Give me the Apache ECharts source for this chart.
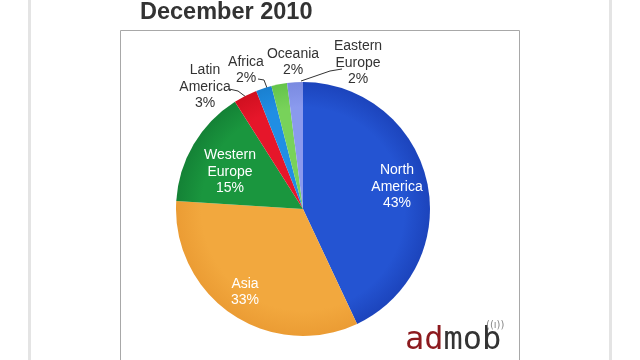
<!DOCTYPE html>
<html>
<head>
<meta charset="utf-8">
<script src="https://cdn.jsdelivr.net/npm/echarts@6/dist/echarts.min.js"></script>
<style>
html,body{margin:0;padding:0;background:#fff;}
#chart{width:640px;height:360px;}
</style>
</head>
<body>
<div id="chart"></div>
<script>
var titleText = 'December 2010';
var regions = ['North\nAmerica', 'Asia', 'Western\nEurope', 'Latin\nAmerica', 'Africa', 'Oceania', 'Eastern\nEurope'];
var shares = [43, 33, 15, 3, 2, 2, 2];

// styling (not data)
var sliceColors = [
  ['#2454d2', '#1c44bc'],
  ['#f2a83e', '#eb9c34'],
  ['#1a963e', '#148236'],
  ['#e6162a', '#d01020'],
  ['#208ee4', '#1a80d0'],
  ['#78d25a', '#64c44a'],
  ['#8a9aee', '#7a8ae0']
];
var inside = [true, true, true, false, false, false, false];
var labelPos = [[397, 187], [245, 292], [230, 172], [205, 87], [246, 70], [293, 62], [358, 63]];
var leaderLines = [null, null, null,
  [[229, 89], [238, 91], [246, 97]],
  [[258, 79], [264, 80], [267, 88]],
  null,
  [[301, 81], [330, 71], [342, 69]]
];

var cx = 303, cy = 209, R = 127;

var data = regions.map(function (name, i) {
  return {
    name: name,
    value: shares[i],
    itemStyle: {
      color: {
        type: 'radial', x: cx, y: cy, r: R, global: true,
        colorStops: [{offset: 0, color: sliceColors[i][0]}, {offset: 0.8, color: sliceColors[i][0]}, {offset: 1, color: sliceColors[i][1]}]
      }
    },
    label: {
      color: inside[i] ? '#ffffff' : '#333333',
      position: inside[i] ? 'inside' : 'outside'
    },
    labelLine: {show: !!leaderLines[i]}
  };
});

var chart = echarts.init(document.getElementById('chart'));
chart.setOption({
  backgroundColor: '#ffffff',
  animation: false,
  graphic: [
    {type: 'rect', shape: {x: 28, y: -2, width: 3, height: 370}, style: {fill: '#e4e4e4'}, silent: true},
    {type: 'rect', shape: {x: 609, y: -2, width: 3, height: 370}, style: {fill: '#e4e4e4'}, silent: true},
    {type: 'rect', shape: {x: 120.5, y: 30.5, width: 399, height: 340}, style: {fill: 'none', stroke: '#a8a8a8', lineWidth: 1}, silent: true, z: -1},
    {type: 'text', left: 140, top: 1, style: {text: titleText, font: 'bold 23.5px "Liberation Sans", Arial, sans-serif', fill: '#333333'}},
    {type: 'text', left: 405, top: 325, style: {
      text: '{a|ad}{m|mob}',
      rich: {
        a: {fontFamily: '"DejaVu Sans Mono", monospace', fill: '#8c1a1e', fontSize: 32},
        m: {fontFamily: '"DejaVu Sans Mono", monospace', fill: '#333333', fontSize: 32}
      }
    }},
    {type: 'text', left: 486, top: 320, style: {text: '((ı))', font: '10px "DejaVu Sans", sans-serif', fill: '#888888'}}
  ],
  series: [{
    type: 'pie',
    center: [cx, cy],
    radius: [0, R],
    startAngle: 90,
    clockwise: true,
    avoidLabelOverlap: false,
    data: data,
    itemStyle: {borderWidth: 0},
    label: {
      show: true,
      formatter: function (p) { return p.name + '\n' + p.value + '%'; },
      fontFamily: '"Liberation Sans", Arial, sans-serif',
      fontSize: 14,
      lineHeight: 16.5,
      align: 'center'
    },
    labelLine: {lineStyle: {color: '#333333', width: 1}, length: 5, length2: 5},
    labelLayout: function (p) {
      var i = p.dataIndex;
      var res = {x: labelPos[i][0], y: labelPos[i][1], align: 'center', verticalAlign: 'middle'};
      if (leaderLines[i]) res.labelLinePoints = leaderLines[i];
      return res;
    }
  }]
});
</script>
</body>
</html>
